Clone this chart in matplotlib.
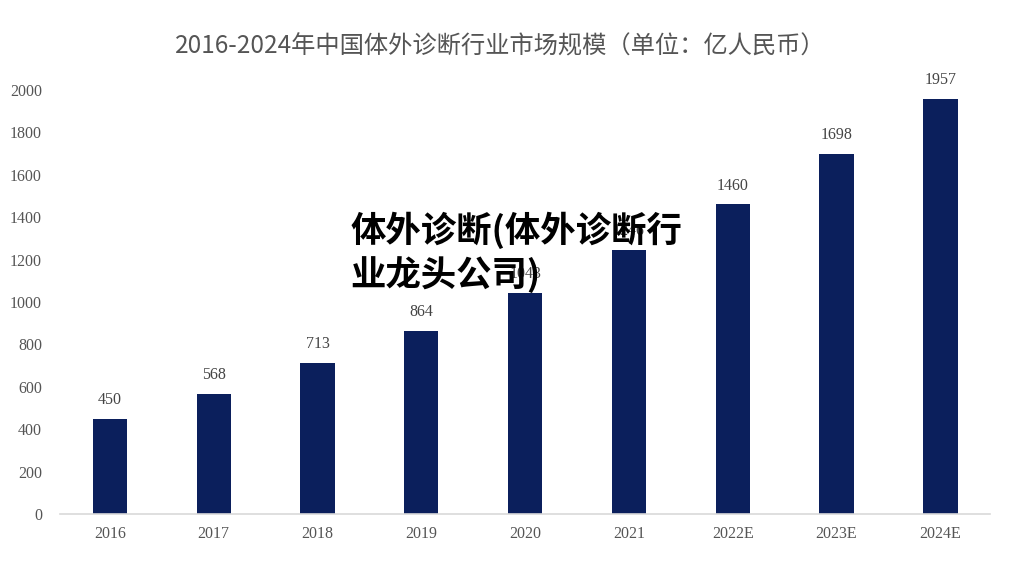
import matplotlib.pyplot as plt

years = ['2016', '2017', '2018', '2019', '2020', '2021', '2022E', '2023E', '2024E']
market_size = [450, 568, 713, 864, 1043, 1246, 1460, 1698, 1957]

title = '2016-2024年中国体外诊断行业市场规模（单位：亿人民币）'
overlay = '体外诊断(体外诊断行\n业龙头公司)'

fig = plt.figure(figsize=(10.24, 5.72), dpi=100)
ax = fig.add_axes([0.0586, 0.1014, 0.9084, 0.7413])

x = range(len(years))
bars = ax.bar(x, market_size, width=0.33, color='#0b1f5c', zorder=2)

# value labels above bars
for xi, v in zip(x, market_size):
    ax.text(xi, v + 50, str(v), ha='center', va='bottom', fontsize=11.5,
            family='Liberation Serif', color='#444444', clip_on=False)

ax.set_xlim(-0.48, 8.48)
ax.set_ylim(0, 2000)
ax.set_yticks(range(0, 2001, 200))
ax.set_xticks(list(x))
ax.set_xticklabels(years)

for lab in ax.get_xticklabels() + ax.get_yticklabels():
    lab.set_family('Liberation Serif')
    lab.set_fontsize(11.5)
    lab.set_color('#555555')

ax.tick_params(axis='both', length=0)
ax.tick_params(axis='x', pad=9)
ax.tick_params(axis='y', pad=13)
for s in ['top', 'right', 'left']:
    ax.spines[s].set_visible(False)
ax.spines['bottom'].set_color('#d9d9d9')
ax.spines['bottom'].set_linewidth(1.2)

fig.text(0.489, 0.918, title, ha='center', va='center', fontsize=17.5,
         family=['Noto Sans CJK SC', 'DejaVu Sans'], weight='light',
         color='#555555')

fig.text(0.342, 0.63, overlay, ha='left', va='top', fontsize=25.5,
         family=['Noto Sans CJK SC', 'DejaVu Sans'], weight='heavy',
         color='black', linespacing=1.25, zorder=10)

fig.savefig('out.png', dpi=100, facecolor='white')
